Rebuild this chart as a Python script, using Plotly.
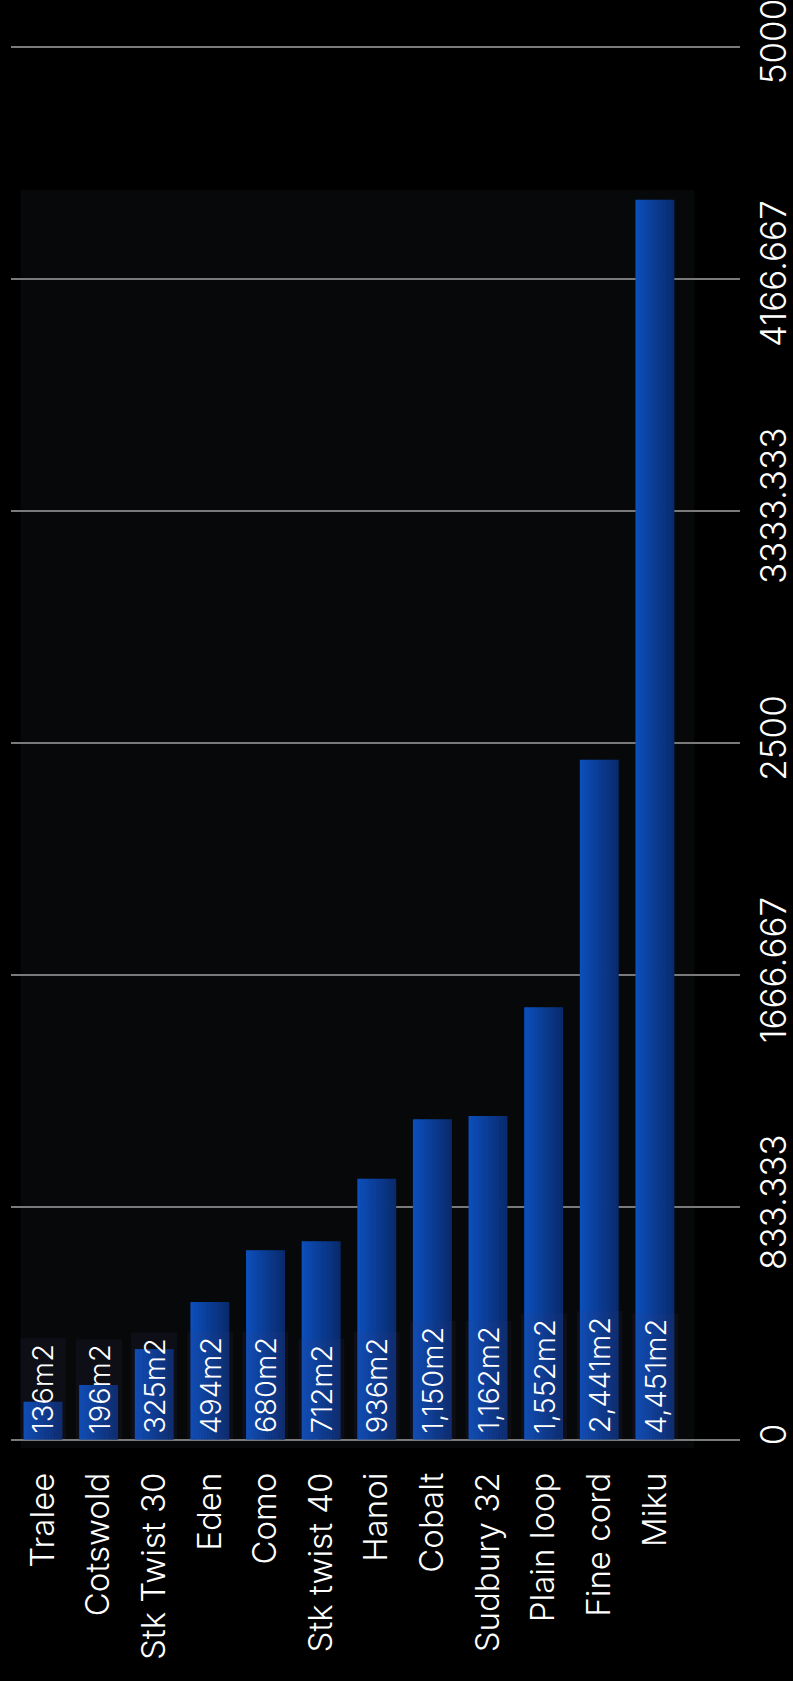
import plotly.graph_objects as go

categories = ["Tralee", "Cotswold", "Stk Twist 30", "Eden", "Como", "Stk twist 40",
              "Hanoi", "Cobalt", "Sudbury 32", "Plain loop", "Fine cord", "Miku"]
values = [136, 196, 325, 494, 680, 712, 936, 1150, 1162, 1552, 2441, 4451]
tick_vals = [0, 833.333, 1666.667, 2500, 3333.333, 4166.667, 5000]
tick_text = ["0", "833.333", "1666.667", "2500", "3333.333", "4166.667", "5000"]
labels = [f"{v:,}m2" for v in values]

FONT = "Inter"
W, H = 793, 1681
ML, MR, MT, MB = 11, 53, 44, 240

fig = go.Figure()

# horizontal gradient emulated by narrow overlapping stripes
N = 14
bar_w = 0.70
c0 = (12, 78, 186)
c1 = (9, 43, 110)
sw = bar_w / N
for i in range(N):
    t = i / (N - 1)
    col = tuple(round(c0[k] + (c1[k] - c0[k]) * t) for k in range(3))
    fig.add_trace(go.Bar(
        x=categories, y=values,
        width=sw * 1.25 if i < N - 1 else sw,
        offset=-bar_w / 2 + i * sw,
        marker=dict(color=f"rgb{col}", line=dict(width=0)),
        hoverinfo="skip", showlegend=False,
    ))

for c, lab in zip(categories, labels):
    fig.add_annotation(
        x=c, y=0, xref="x", yref="y", text=lab, showarrow=False,
        textangle=-90, xanchor="center", yanchor="bottom",
        font=dict(family=FONT, size=29, color="white", weight=300),
        bgcolor="rgba(60,60,130,0.11)", borderpad=5,
    )

# darker plot panel behind the bars
fig.add_shape(type="rect", xref="x", yref="paper",
              x0=-0.4, x1=11.71, y0=-0.005, y1=0.8955,
              fillcolor="#07080a", line=dict(width=0), layer="between")

fig.update_layout(
    width=W, height=H,
    paper_bgcolor="black", plot_bgcolor="black",
    margin=dict(l=ML, r=MR, t=MT, b=MB, pad=0),
    barmode="overlay",
    font=dict(family=FONT, color="white", weight=300),
    xaxis=dict(
        type="category", range=[-0.575, 12.53], automargin=False,
        tickangle=-90, tickfont=dict(size=33, color="white", family=FONT, weight=300),
        showgrid=False, showline=False, zeroline=False, ticks="",
        ticklabelstandoff=24,
    ),
    yaxis=dict(
        range=[-5, 5010], side="right", automargin=False,
        tickvals=tick_vals, ticktext=tick_text, tickangle=-90,
        tickfont=dict(size=35, color="white", family=FONT, weight=300),
        showgrid=True, gridcolor="#7a7a7a", gridwidth=2,
        zeroline=True, zerolinecolor="#7a7a7a", zerolinewidth=2,
        showline=False, ticks="", ticklabelstandoff=10,
        ticklabeloverflow="allow",
    ),
)

fig.write_html(
    "out.html",
    config={"displayModeBar": False},
    post_script="document.body.style.margin='0';document.body.style.background='black';",
)
